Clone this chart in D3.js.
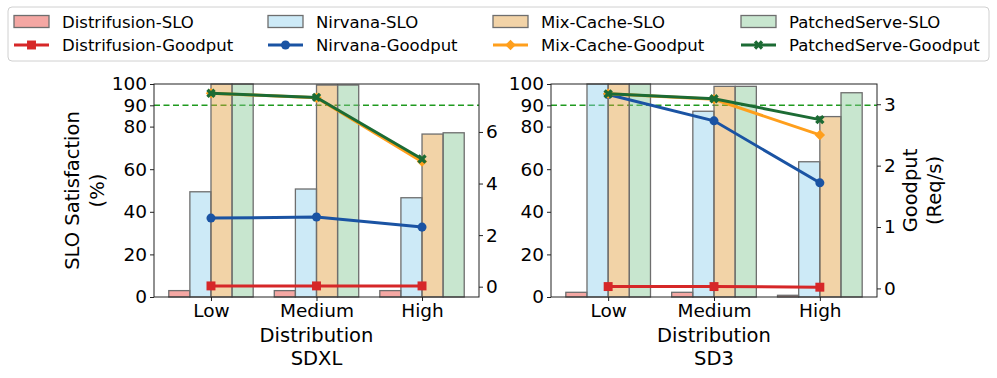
<!DOCTYPE html>
<html>
<head>
<meta charset="utf-8">
<script src="https://cdn.jsdelivr.net/npm/d3@7"></script>
<style>
  body { margin: 0; background: #fff; }
  text { font-family: "DejaVu Sans", sans-serif; fill: #000; }
</style>
</head>
<body>
<div id="chart"></div>
<script>
// data
var categories = ["Low", "Medium", "High"]
var methods = ["Distrifusion", "Nirvana", "Mix-Cache", "PatchedServe"]
var sloTicks = [0, 20, 40, 60, 80, 90, 100]

// SLO satisfaction (%), one array per method in the order above
var sdxlSlo = [[3, 3, 3], [49.4, 50.7, 46.6], [100, 99.5, 76.5], [100, 99.5, 77.1]]
var sd3Slo = [[2.2, 2.2, 0.8], [100, 87.2, 63.5], [100, 98.9, 84.7], [100, 98.9, 95.9]]

// goodput (req/s)
var sdxlGoodput = [[0.03, 0.03, 0.03], [2.66, 2.70, 2.31], [7.5, 7.33, 4.85], [7.5, 7.34, 4.95]]
var sd3Goodput = [[0.03, 0.03, 0.02], [3.16, 2.73, 1.72], [3.17, 3.08, 2.50], [3.17, 3.09, 2.75]]
var sdxlGoodTicks = [0, 2, 4, 6]
var sd3GoodTicks = [0, 1, 2, 3]

// styles
var barColors = ["#e73b33", "#90d0ed", "#e29d3b", "#85c794"]
var lineColors = ["#d62728", "#1a53a3", "#ff9f1c", "#1c6b34"]
var markerTypes = [d3.symbolSquare, d3.symbolCircle, d3.symbolSquare, d3.symbolCross]
var markerSizes = [80, 64, 55, 55]
var markerRot = [0, 0, 45, 45]

var W = 997, H = 378
var top0 = 84, bottom0 = 297

var svg = d3.select("#chart").append("svg")
  .attr("width", W)
  .attr("height", H)

function marker(g, i, x, y) {
  g.append("path")
    .attr("d", d3.symbol().type(markerTypes[i]).size(markerSizes[i])())
    .attr("transform", "translate(" + x + "," + y + ") rotate(" + markerRot[i] + ")")
    .style("fill", lineColors[i])
}

function drawPanel(opt) {
  var g = svg.append("g")

  var xScale = d3.scaleLinear().domain([-0.54, 2.54]).range([opt.x0, opt.x1])
  var yScale = d3.scaleLinear().domain([0, 100]).range([bottom0, top0])
  var y2Scale = d3.scaleLinear().domain(opt.goodDomain).range([bottom0, top0])
  var bw = xScale(0.2) - xScale(0)

  // 90% line
  g.append("line")
    .attr("x1", opt.x0).attr("x2", opt.x1)
    .attr("y1", yScale(90)).attr("y2", yScale(90))
    .style("stroke", "#1f9a1f")
    .style("stroke-width", 1.6)
    .style("stroke-dasharray", "6,3.5")

  // bars
  opt.slo.forEach(function(vals, m) {
    g.selectAll(".bar" + m)
      .data(vals)
      .enter()
      .append("rect")
      .attr("x", function(d, i) { return xScale(i + (m - 1.5) * 0.2) - bw / 2 })
      .attr("y", function(d) { return yScale(d) })
      .attr("width", bw)
      .attr("height", function(d) { return bottom0 - yScale(d) })
      .style("fill", barColors[m])
      .style("fill-opacity", 0.45)
      .style("stroke", "#6e6e6e")
      .style("stroke-width", 1.3)
  })

  // goodput lines
  var drawPath = d3.line()
    .x(function(d, i) { return xScale(i) })
    .y(function(d) { return y2Scale(d) })

  opt.good.forEach(function(vals, m) {
    g.append("path")
      .attr("d", drawPath(vals))
      .style("fill", "none")
      .style("stroke", lineColors[m])
      .style("stroke-width", 3)
    vals.forEach(function(d, i) { marker(g, m, xScale(i), y2Scale(d)) })
  })

  // frame
  g.append("rect")
    .attr("x", opt.x0).attr("y", top0)
    .attr("width", opt.x1 - opt.x0).attr("height", bottom0 - top0)
    .style("fill", "none")
    .style("stroke", "#222")
    .style("stroke-width", 1)

  // axes
  var xAxis = d3.axisBottom(xScale).tickValues([0, 1, 2])
    .tickFormat(function(d) { return categories[d] })
    .tickSize(4).tickSizeOuter(0).tickPadding(3)
  var yAxis = d3.axisLeft(yScale).tickValues(sloTicks).tickSize(4).tickSizeOuter(0).tickPadding(3)
  var y2Axis = d3.axisRight(y2Scale).tickValues(opt.goodTicks).tickFormat(d3.format("d"))
    .tickSize(4).tickSizeOuter(0).tickPadding(3)

  var ax = [
    g.append("g").attr("transform", "translate(0," + bottom0 + ")").call(xAxis),
    g.append("g").attr("transform", "translate(" + opt.x0 + ",0)").call(yAxis),
    g.append("g").attr("transform", "translate(" + opt.x1 + ",0)").call(y2Axis)
  ]
  ax.forEach(function(a) {
    a.select(".domain").remove()
    a.selectAll("line").style("stroke", "#222")
    a.selectAll("text").style("font-size", "18.5px").style("font-family", "DejaVu Sans")
  })

  // x labels
  var cx = (opt.x0 + opt.x1) / 2
  g.append("text").attr("x", cx).attr("y", 342).attr("text-anchor", "middle")
    .style("font-size", "19.5px").text("Distribution")
  g.append("text").attr("x", cx).attr("y", 365).attr("text-anchor", "middle")
    .style("font-size", "19.5px").text(opt.name)
}

drawPanel({x0: 154, x1: 479, slo: sdxlSlo, good: sdxlGoodput,
  goodDomain: [-0.40, 7.86], goodTicks: sdxlGoodTicks, name: "SDXL"})
drawPanel({x0: 551, x1: 877, slo: sd3Slo, good: sd3Goodput,
  goodDomain: [-0.14, 3.33], goodTicks: sd3GoodTicks, name: "SD3"})

// y labels
function vlabel(x, y, txt) {
  svg.append("text")
    .attr("transform", "translate(" + x + "," + y + ") rotate(-90)")
    .attr("text-anchor", "middle")
    .attr("dy", "0.35em")
    .style("font-size", "19.5px")
    .text(txt)
}
vlabel(72, 190.5, "SLO Satisfaction")
vlabel(97, 190.5, "(%)")
vlabel(910, 190.5, "Goodput")
vlabel(934, 190.5, "(Req/s)")

// legend
var legend = svg.append("g")
legend.append("rect")
  .attr("x", 8).attr("y", 7).attr("width", 981).attr("height", 54)
  .attr("rx", 4)
  .style("fill", "#fff")
  .style("stroke", "#d0d0d0")
var legX = [14, 268, 493, 741]
methods.forEach(function(name, m) {
  var lx = legX[m]
  legend.append("rect")
    .attr("x", lx).attr("y", 15.5).attr("width", 35).attr("height", 12)
    .style("fill", barColors[m]).style("fill-opacity", 0.45)
    .style("stroke", "#6e6e6e").style("stroke-width", 1.3)
  legend.append("text").attr("x", lx + 48).attr("y", 27.5)
    .style("font-size", "16.5px").text(name + "-SLO")
  legend.append("line")
    .attr("x1", lx).attr("x2", lx + 35).attr("y1", 45).attr("y2", 45)
    .style("stroke", lineColors[m]).style("stroke-width", 3)
  marker(legend, m, lx + 17.5, 45)
  legend.append("text").attr("x", lx + 48).attr("y", 51)
    .style("font-size", "16.5px").text(name + "-Goodput")
})
</script>
</body>
</html>
